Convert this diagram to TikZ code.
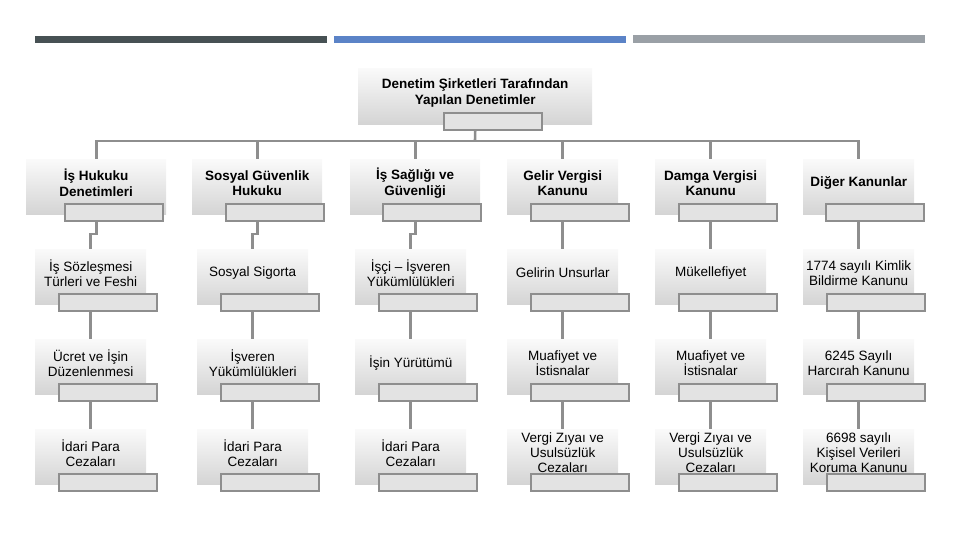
\documentclass[tikz,border=0pt]{standalone}
\usepackage{fontspec}
\setmainfont{Liberation Sans}
\definecolor{barA}{HTML}{475154}
\definecolor{barB}{HTML}{5B83C7}
\definecolor{barC}{HTML}{9AA0A6}
\definecolor{lineg}{HTML}{8E8E8E}
\definecolor{subfill}{HTML}{E3E3E3}
\definecolor{boxtop}{HTML}{FAFAFA}
\definecolor{boxbot}{HTML}{D4D4D4}
\tikzset{
  box/.style={rectangle, inner sep=0pt, minimum height=55pt, top color=boxtop, bottom color=boxbot, draw=none},
  subbox/.style={rectangle, inner sep=0pt, minimum width=98pt, minimum height=17pt, fill=subfill, draw=lineg, line width=2pt},
  conn/.style={draw=lineg, line width=2.6pt},
  hd/.style={align=center, inner sep=0pt, font=\fontsize{13.5}{15.5}\selectfont\bfseries},
  tx/.style={align=center, inner sep=0pt, font=\fontsize{13.5}{15}\selectfont},
}
% name, left, top, width, subleft, textstyle, text
\newcommand\nbox[7]{%
  \node[box, minimum width=#4pt, anchor=north west] (#1) at (#2,#3) {};
  \node[#6] (#1-t) at ([yshift=-24pt]#1.north) {#7};
  \node[subbox, anchor=north west] (#1-s) at (#5+1,#3+44) {};
}
\begin{document}
\begin{tikzpicture}[x=1pt,y=-1pt]
\path[use as bounding box] (0,0) rectangle (960,540);
% top bars
\fill[barA] (35,36) rectangle (327,43);
\fill[barB] (334,36) rectangle (626,43);
\fill[barC] (633,35) rectangle (925,43);

% root
\node[box, minimum width=234pt, minimum height=56pt, anchor=north west] (root) at (358,68) {};
\node[hd] (root-t) at ([yshift=-25pt]root.north) {Denetim Şirketleri Tarafından\\Yapılan Denetimler};
\node[subbox, anchor=north west] (root-s) at (443,112) {};

% level 1
\nbox{a1}{26}{159}{140}{63}{hd}{İş Hukuku\\Denetimleri}
\nbox{b1}{192}{159}{130}{224}{hd}{Sosyal Güvenlik\\Hukuku}
\nbox{c1}{350}{159}{130}{381}{hd}{İş Sağlığı ve\\Güvenliği}
\nbox{d1}{507}{159}{111}{529}{hd}{Gelir Vergisi\\Kanunu}
\nbox{e1}{655}{159}{111}{677}{hd}{Damga Vergisi\\Kanunu}
\nbox{f1}{803}{159}{111}{824}{hd}{Diğer Kanunlar}

% level 2
\nbox{a2}{35}{249}{111}{57}{tx}{İş Sözleşmesi\\Türleri ve Feshi}
\nbox{b2}{197}{249}{111}{219}{tx}{Sosyal Sigorta}
\nbox{c2}{355}{249}{111}{377}{tx}{İşçi – İşveren\\Yükümlülükleri}
\nbox{d2}{507}{249}{111}{529}{tx}{Gelirin Unsurlar}
\nbox{e2}{655}{249}{111}{677}{tx}{Mükellefiyet}
\nbox{f2}{803}{249}{111}{825}{tx}{1774 sayılı Kimlik\\Bildirme Kanunu}

% level 3
\nbox{a3}{35}{339}{111}{57}{tx}{Ücret ve İşin\\Düzenlenmesi}
\nbox{b3}{197}{339}{111}{219}{tx}{İşveren\\Yükümlülükleri}
\nbox{c3}{355}{339}{111}{377}{tx}{İşin Yürütümü}
\nbox{d3}{507}{339}{111}{529}{tx}{Muafiyet ve\\İstisnalar}
\nbox{e3}{655}{339}{111}{677}{tx}{Muafiyet ve\\İstisnalar}
\nbox{f3}{803}{339}{111}{825}{tx}{6245 Sayılı\\Harcırah Kanunu}

% level 4
\nbox{a4}{35}{429}{111}{57}{tx}{İdari Para\\Cezaları}
\nbox{b4}{197}{429}{111}{219}{tx}{İdari Para\\Cezaları}
\nbox{c4}{355}{429}{111}{377}{tx}{İdari Para\\Cezaları}
\nbox{d4}{507}{429}{111}{529}{tx}{Vergi Zıyaı ve\\Usulsüzlük\\Cezaları}
\nbox{e4}{655}{429}{111}{677}{tx}{Vergi Zıyaı ve\\Usulsüzlük\\Cezaları}
\nbox{f4}{803}{429}{111}{825}{tx}{6698 sayılı\\Kişisel Verileri\\Koruma Kanunu}

% connectors
\coordinate (bus) at (475,141);
\draw[conn] (root.center |- root-s.south) -- (bus);
\foreach \n in {a1,b1,c1,d1,e1,f1}{
  \draw[conn] (\n.north) |- (bus);
}
\foreach \u/\l in {a1/a2,b1/b2,c1/c2}{
  \draw[conn] (\u.center |- \u-s.south) -- ++(0,12) -| (\l.north);
}
\foreach \u/\l in {d1/d2,e1/e2,f1/f2,a2/a3,b2/b3,c2/c3,d2/d3,e2/e3,f2/f3,a3/a4,b3/b4,c3/c4,d3/d4,e3/e4,f3/f4}{
  \draw[conn] (\l.north |- \u-s.south) -- (\l.north);
}
\end{tikzpicture}
\end{document}
